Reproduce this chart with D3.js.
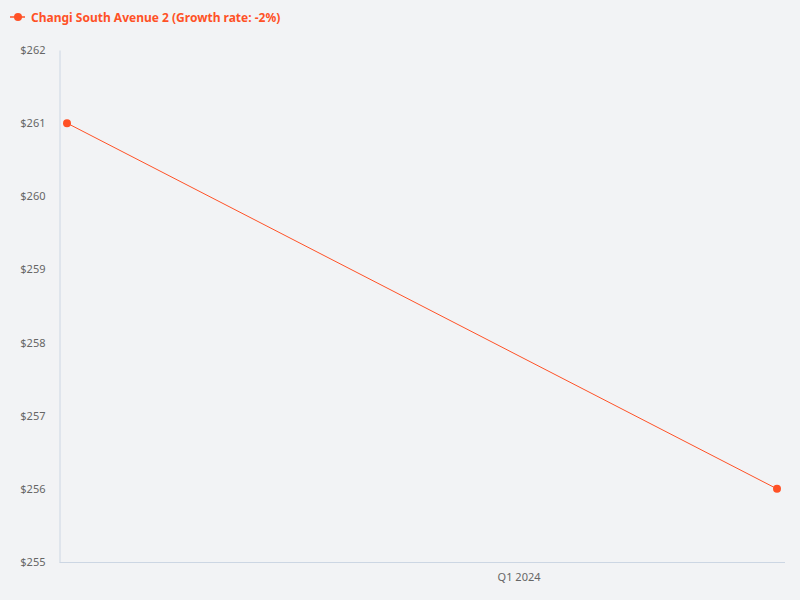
<!DOCTYPE html>
<html>
<head>
<meta charset="utf-8">
<script src="https://cdn.jsdelivr.net/npm/d3@7"></script>
<style>
  body { margin: 0; background: #f2f3f5; }
  svg { display: block; font-family: "Noto Sans", "Open Sans", sans-serif; }
</style>
</head>
<body>
<script>
// data
const seriesName = "Changi South Avenue 2";
const growthRate = "-2%";
const dates = ["2023-07-26", "2024-04-01"];
const prices = [261, 256];
const yTicks = [255, 256, 257, 258, 259, 260, 261, 262];

const width = 800, height = 600;
const color = "#ff5126";

const svg = d3.select("body").append("svg")
    .attr("width", width)
    .attr("height", height);

svg.append("rect")
    .attr("width", width).attr("height", height)
    .attr("fill", "#f2f3f5");

const parse = d3.timeParse("%Y-%m-%d");
const points = dates.map((d, i) => ({ date: parse(d), value: prices[i] }));

const x = d3.scaleTime()
    .domain(d3.extent(points, d => d.date))
    .range([67, 777]);

const y = d3.scaleLinear()
    .domain([255, 262])
    .range([562, 50]);

// y axis
const yAxis = svg.append("g")
    .attr("transform", "translate(59.5,0)")
    .call(d3.axisLeft(y).tickValues(yTicks).tickSize(0).tickPadding(14)
        .tickFormat(d => "$" + d));
yAxis.select(".domain").attr("stroke", "#ccd6e3");
yAxis.selectAll("text").attr("fill", "#666").attr("font-size", 11)
    .attr("font-family", "Noto Sans, sans-serif");

// x axis
const quarter = d => "Q" + (Math.floor(d.getMonth() / 3) + 1) + " " + d.getFullYear();
const xAxis = svg.append("g")
    .attr("transform", "translate(0,562.5)")
    .call(d3.axisBottom(x).tickValues(d3.timeYear.range(...x.domain()))
        .tickSize(0).tickPadding(11).tickFormat(quarter));
xAxis.select(".domain").attr("d", "M59.5,0H785").attr("stroke", "#ccd6e3");
xAxis.selectAll("text").attr("fill", "#666").attr("font-size", 11)
    .attr("font-family", "Noto Sans, sans-serif");

// line + points
const line = d3.line().x(d => x(d.date)).y(d => y(d.value));
svg.append("path")
    .datum(points)
    .attr("d", line)
    .attr("fill", "none")
    .attr("stroke", color)
    .attr("stroke-width", 1);

svg.selectAll("circle.pt")
    .data(points)
    .enter().append("circle")
    .attr("class", "pt")
    .attr("cx", d => x(d.date))
    .attr("cy", d => y(d.value))
    .attr("r", 4)
    .attr("fill", color);

// legend
const legend = svg.append("g").attr("transform", "translate(10,17)");
legend.append("line")
    .attr("x1", 0).attr("x2", 15)
    .attr("stroke", color).attr("stroke-width", 1.5);
legend.append("circle")
    .attr("cx", 8).attr("r", 4).attr("fill", color);
legend.append("text")
    .attr("x", 21).attr("y", 4.5)
    .attr("fill", color)
    .attr("font-size", 12)
    .attr("font-weight", "bold")
    .text(seriesName + " (Growth rate: " + growthRate + ")");
</script>
</body>
</html>
